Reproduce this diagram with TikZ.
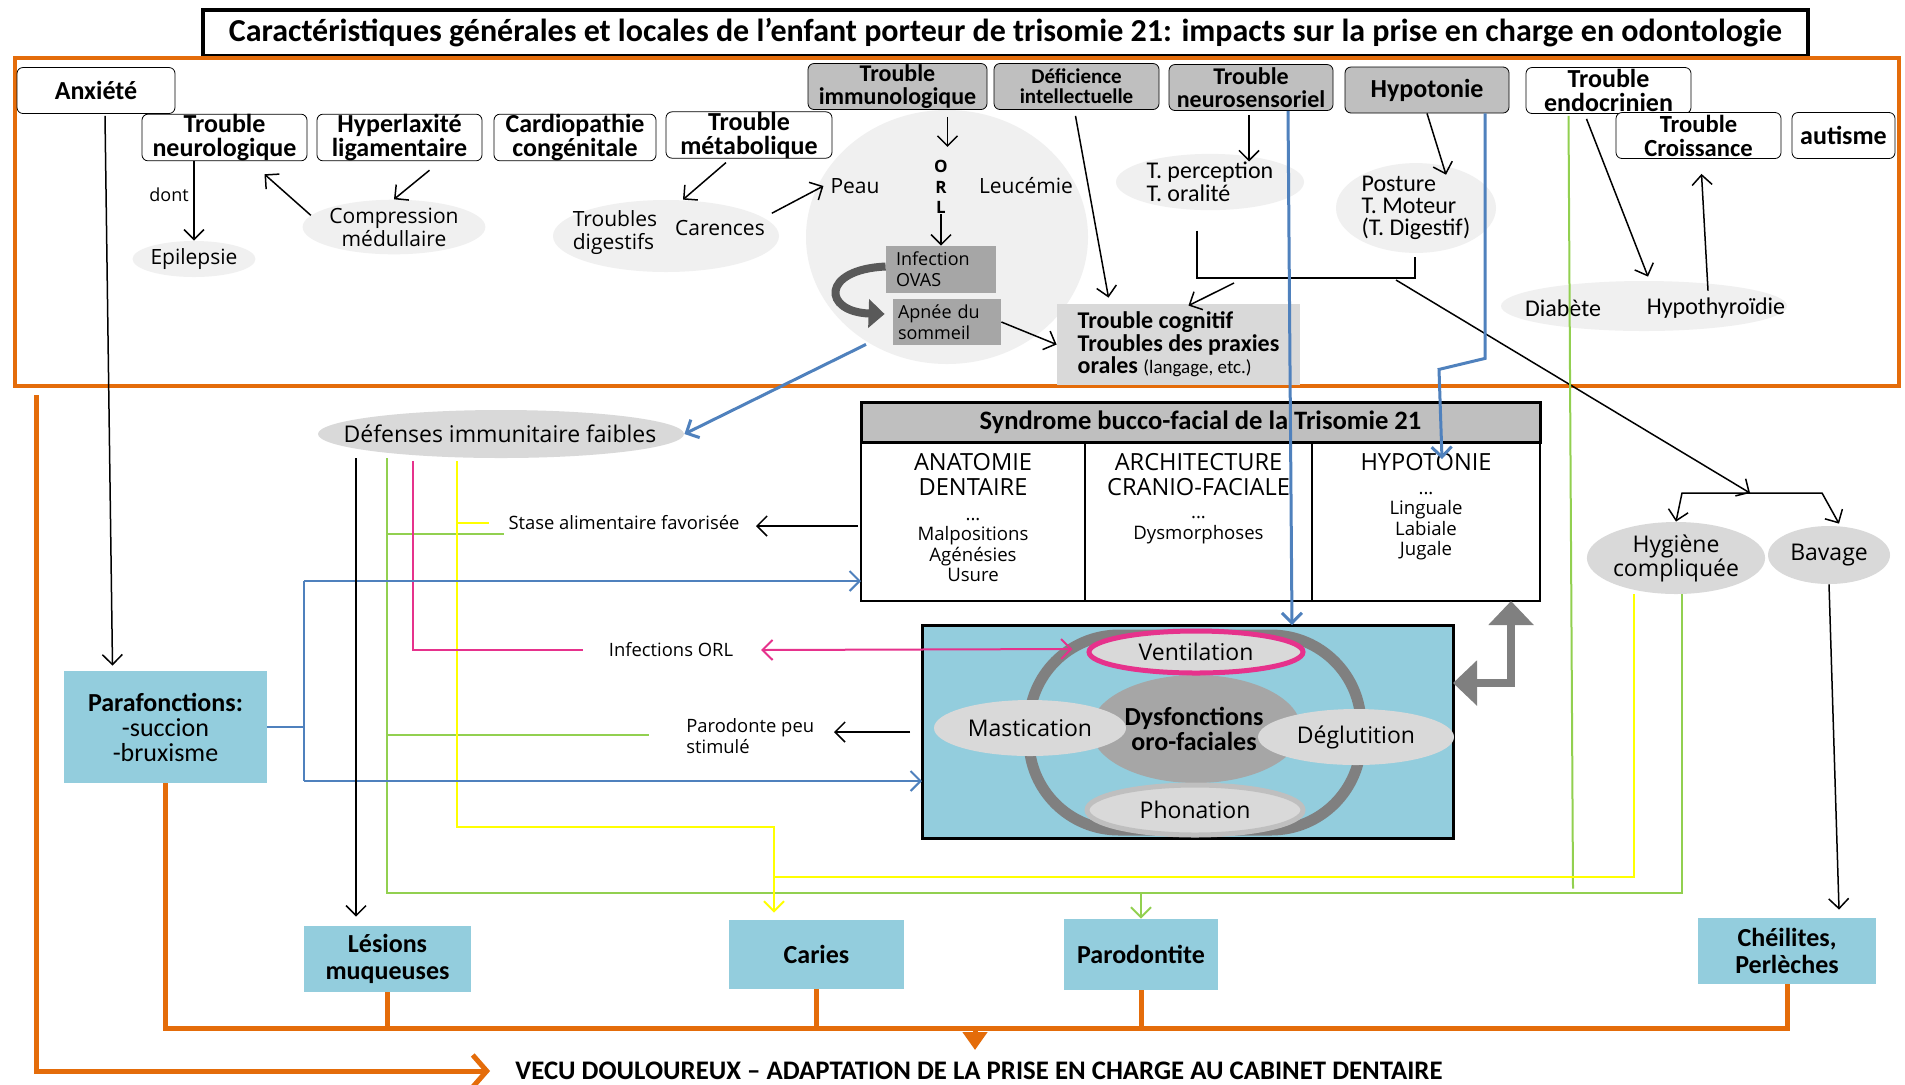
\documentclass[tikz,border=0pt]{standalone}
\usepackage{fontspec}
\setmainfont{Carlito}
\newfontfamily\osans{Open Sans}
\usetikzlibrary{arrows.meta,shapes.geometric,calc}

\definecolor{orangeT}{RGB}{228,108,10}
\definecolor{bleuC}{RGB}{147,205,221}
\definecolor{bleuL}{RGB}{79,129,189}
\definecolor{vertL}{RGB}{146,208,80}
\definecolor{jauneL}{RGB}{255,255,0}
\definecolor{rose}{RGB}{230,50,140}
\definecolor{grisA}{RGB}{240,240,240}
\definecolor{grisB}{RGB}{217,217,217}
\definecolor{grisC}{RGB}{191,191,191}
\definecolor{grisD}{RGB}{166,166,166}
\definecolor{grisE}{RGB}{128,128,128}
\definecolor{grisF}{RGB}{89,89,89}

\newcommand{\fsz}[2]{\fontsize{#1}{#2}\selectfont}

\tikzset{
    boite/.style={draw, rounded corners=3pt, fill=white, align=center, inner sep=0pt, minimum height=23pt, font=\bfseries\fsz{13}{12}}, % cases du haut
    bulle/.style={ellipse, fill=grisA, inner sep=0pt, align=center}, % bulles grises
    txtlarge/.style={font=\osans\fsz{10.5}{11.5}, align=left},
    txtcal/.style={font=\fsz{12}{11.5}, align=left},
    atteinte/.style={fill=bleuC, align=center, inner sep=0pt, font=\bfseries\fsz{13}{13.5}}, % cases bleues du bas
    fl/.style={-{Straight Barb[length=5pt,width=10pt]}, line width=0.75pt},
    coul/.style={line width=1pt},
    petit/.style={font=\osans\fsz{9.2}{10.5}, align=left}
}

\begin{document}
\begin{tikzpicture}[x=0.5pt, y=-0.5pt]
\useasboundingbox (0,0) rectangle (1905,1084);
\fill[white] (0,0) rectangle (1905,1084);

% titre et cadre
\node[draw, line width=2pt, minimum width=802.5pt, minimum height=23pt, inner sep=0pt, font=\bfseries\fsz{16}{16}] (titre) at (1005.5,33) {Caractéristiques générales et locales de l’enfant porteur de trisomie 21: impacts sur la prise en charge en odontologie};
\draw[orangeT, line width=2pt] (15,58) rectangle (1899,386);

% bulles du haut
\node[bulle, minimum width=141pt, minimum height=127pt] (cercle) at (947,237) {};
\node[bulle, minimum width=52pt, minimum height=18pt, txtlarge] (epil) at (194,259) {Epilepsie};
\node[bulle, minimum width=90pt, minimum height=25pt, txtlarge, align=center] (compr) at (394,227) {Compression\\médullaire};
\node[bulle, minimum width=113pt, minimum height=36pt] (digest) at (666,236) {};
\node[txtlarge] (troubdig) at (615,233) {Troubles\\digestifs};
\node[txtlarge] (carences) at (720,228) {Carences};
\node[txtlarge] (peau) at (855,186) {Peau};
\node[txtlarge] (leuc) at (1026,186) {Leucémie};
\node[font=\osans\bfseries\fsz{8.5}{10.3}, align=center, inner sep=0pt] (orl) at (941,187) {O\\R\\L};
\node[bulle, minimum width=94pt, minimum height=28pt, txtcal] (percep) at (1210,182) {T. perception\\T. oralité};
\node[bulle, minimum width=80pt, minimum height=43pt, txtcal, font=\fsz{12}{11}] (posture) at (1416,208) {Posture\\T. Moteur\\(T. Digestif)};
\node[bulle, minimum width=143pt, minimum height=25pt] (diab) at (1644,306) {};
\node[txtcal] (diabete) at (1563,308) {Diabète};
\node[txtcal] (hypoth) at (1716,308) {Hypothyroïdie};
\node[font=\osans\fsz{9}{10}] (dont) at (169,195) {dont};

\node[fill=grisD, minimum height=23.5pt, text width=45pt, inner xsep=5pt, inner ysep=0pt, font=\osans\fsz{9}{10.5}, align=left] (infect) at (941,269.5) {Infection\\OVAS};
\node[fill=grisD, minimum height=23pt, text width=49pt, inner xsep=2.5pt, inner ysep=0pt, font=\osans\fsz{9}{10.5}, align=left] (apnee) at (947,322) {Apnée du\\sommeil};
\node[fill=grisB, minimum width=121.5pt, minimum height=40.5pt, inner sep=0pt, align=left, font=\bfseries\fsz{12}{11.2}] (cognitif) at (1178.5,344.5) {Trouble cognitif\\Troubles des praxies\\orales {\mdseries\fsz{9.5}{11.2}(langage, etc.)}};

% cases du haut
\foreach \nom/\cx/\cy/\lg/\txt in {anx/96/90.5/79/{Anxiété}, neuro/224.5/137.5/82.5/{Trouble\\neurologique}, hyper/399.5/137.5/82.5/{Hyperlaxité\\ligamentaire}, cardio/575/137.5/81/{Cardiopathie\\congénitale}, metab/749/135/83/{Trouble\\métabolique}, endo/1608.5/90.5/82.5/{Trouble\\endocrinien}, autisme/1843.5/135.5/51.5/{autisme}}
    {\node[boite, minimum width=\lg pt] (\nom) at (\cx,\cy) {\txt};}
\node[boite, minimum width=82.5pt, font=\bfseries\fsz{12.3}{12}] (croiss) at (1698.5,135.5) {Trouble\\Croissance};
\foreach \nom/\cx/\cy/\lg/\txt in {immuno/897.5/86.5/89.5/{Trouble\\immunologique}, neurosens/1251/87.5/82/{Trouble\\neurosensoriel}}
    {\node[boite, fill=grisC, minimum width=\lg pt, font=\bfseries\fsz{12}{11.5}] (\nom) at (\cx,\cy) {\txt};}
\node[boite, fill=grisC, minimum width=82pt] (hypo) at (1427,90) {Hypotonie};
\node[boite, fill=grisC, minimum width=82.5pt, font=\bfseries\fsz{10.5}{10}] (defic) at (1076.5,86.5) {Déficience\\intellectuelle};

% syndrome bucco-facial
\node[draw, line width=1.5pt, fill=grisC, minimum width=339.5pt, minimum height=20pt, inner sep=0pt, outer sep=0pt, font=\bfseries\fsz{13.3}{13}] (syndrome) at (1200.5,422) {Syndrome bucco-facial de la Trisomie 21};
\node[draw, line width=1pt, minimum width=339.5pt, minimum height=79.5pt, anchor=north, inner sep=0pt, outer sep=0pt] (tableau) at (syndrome.south) {};
\foreach \dx in {224,451} {\draw[line width=0.75pt] ($(tableau.north west)+(\dx,0)$) -- ($(tableau.south west)+(\dx,0)$);}
\node[font=\osans\fsz{11.8}{12.5}, align=center] (anat) at (973,474.5) {ANATOMIE\\DENTAIRE};
\node[font=\osans\fsz{9.3}{10.2}, align=center] (anatl) at (973,550) {...\\Malpositions\\Agénésies\\Usure};
\node[font=\osans\fsz{11.8}{12.5}, align=center] (archi) at (1198.5,474.5) {ARCHITECTURE\\CRANIO-FACIALE};
\node[font=\osans\fsz{9.3}{10.2}, align=center] (archil) at (1198.5,530) {...\\Dysmorphoses};
\node[font=\osans\fsz{11.8}{12.5}, align=center] (hypot) at (1426,462) {HYPOTONIE};
\node[font=\osans\fsz{9.3}{10.2}, align=center] (hypotl) at (1426,526) {...\\Linguale\\Labiale\\Jugale};

% dysfonctions oro-faciales
\node[draw, line width=1.5pt, fill=bleuC, minimum width=265.5pt, minimum height=106.5pt, inner sep=0pt, outer sep=0pt] (fonctions) at (1187.5,731.5) {};
\node[draw=grisE, line width=5.5pt, rounded corners=45pt, minimum width=166pt, minimum height=97.5pt] (anneau) at (1195,732.5) {};
\node[ellipse, fill=grisD, minimum width=105pt, minimum height=54pt] (centre) at (1196,729) {};
\node[bulle, fill=grisB, draw=rose, line width=2.5pt, minimum width=107pt, minimum height=21pt, font=\osans\fsz{11.5}{12}] (ventilation) at (1196,652) {Ventilation};
\node[bulle, fill=grisB, minimum width=96pt, minimum height=28pt, font=\osans\fsz{11.5}{12}] (mastication) at (1030,728) {Mastication};
\node[bulle, fill=grisB, minimum width=98pt, minimum height=28pt, font=\osans\fsz{11.5}{12}] (deglutition) at (1356,737) {Déglutition};
\node[bulle, fill=grisB, draw=grisC, line width=2.5pt, minimum width=108pt, minimum height=25pt, font=\osans\fsz{11.5}{12}] (phonation) at (1195,810) {Phonation};
\node[font=\bfseries\fsz{13}{11}, align=center] (dysf) at (1194,729) {Dysfonctions\\oro-faciales};

% partie gauche
\node[bulle, fill=grisB, minimum width=183pt, minimum height=24pt] (defenses) at (501,434) {};
\node[font=\osans\fsz{11.5}{12}] (defensestxt) at (500,434) {Défenses immunitaire faibles};
\node[petit] (stase) at (624,523) {Stase alimentaire favorisée};
\node[petit] (infORL) at (671,650) {Infections ORL};
\node[petit, anchor=west, inner sep=0pt] (parod) at (686,736) {Parodonte peu\\stimulé};
\node[bulle, fill=grisB, minimum width=88pt, minimum height=36pt, font=\osans\fsz{11.5}{12}] (hygiene) at (1676,558) {Hygiène\\compliquée};
\node[bulle, fill=grisB, minimum width=61pt, minimum height=29pt, font=\osans\fsz{11.5}{12}] (bavage) at (1829,555) {Bavage};

% atteintes
\node[atteinte, minimum width=101.5pt, minimum height=56pt, font=\bfseries\fsz{13}{12.5}] (parafonc) at (165.5,727) {Parafonctions:\\{\mdseries -succion}\\{\mdseries -bruxisme}};
\node[atteinte, minimum width=83.5pt, minimum height=33pt] (lesions) at (387.5,959) {Lésions\\muqueuses};
\node[atteinte, minimum width=87.5pt, minimum height=34.5pt] (caries) at (816.5,954.5) {Caries};
\node[atteinte, minimum width=77pt, minimum height=35.5pt] (parodontite) at (1141,954.5) {Parodontite};
\node[atteinte, minimum width=89pt, minimum height=33pt] (cheil) at (1787,951) {Chéilites,\\Perlèches};
\node[font=\bfseries\fsz{13.4}{13}, inner sep=0pt] (vecu) at (979,1071) {VECU DOULOUREUX – ADAPTATION DE LA PRISE EN CHARGE AU CABINET DENTAIRE};

% fleches du haut
\draw[fl] (neuro.south -| epil) -- (epil.north);
\draw[fl] (compr.172) -- ($(neuro.south)+(40,13)$);
\draw[fl] ($(hyper.south)+(30,9)$) -- (compr.north);
\draw[fl] ($(metab.south)+(-23,4)$) -- ($(digest.north)+(17,0)$);
\draw[fl] (carences.north east) -- (peau.west);
\draw[fl] ($(immuno.south)+(50,7)$) -- ++(0,30);
\draw[fl] (orl.south) -- (infect.north -| orl.south);
\draw[grisF, line width=4pt, -{Triangle[width=14pt,length=8pt]}] ($(infect.west)+(0,-3)$) .. controls ($(infect.west)+(-65,0)$) and ($(apnee.west)+(-70,-10)$) .. ($(apnee.west)+(-8,-8)$);
\draw[fl] (apnee.east) -- (cognitif.west);
\draw[fl] ($(defic.south)+(-1,6)$) -- ($(cognitif.north)+(-70,-6)$);
\draw[fl] ($(neurosens.south)+(-2,4)$) -- ($(percep.north)+(39,8)$);
\draw[fl] (hypo.south) -- ($(posture.north)+(30,12)$);
\coordinate (crochet) at (1415,278);
\draw[line width=0.75pt] ($(percep.south)+(-13,20)$) |- (crochet) -- ($(posture.south)+(-1,4)$);
\draw[fl] ($(crochet)+(-181,5)$) -- ($(cognitif.north)+(10,2)$);
\coordinate (fourche) at (1750,493);
\draw[fl] ($(crochet)+(-19,2)$) -- (fourche);
\draw[fl] (fourche) -- ++(-68,0) -- (hygiene.north);
\draw[fl] (fourche) -- ++(72,0) -- ($(bavage.north)+(10,-2)$);
\draw[fl] (bavage.south) -- ($(cheil.north)+(52,-8)$);
\draw[fl] ($(endo.south)+(-22,5)$) -- ($(diab.north)+(4,-4)$);
\draw[fl] ($(hypoth.north)+(-8,0)$) -- ($(croiss.south)+(3,15)$);
\draw[fl] ($(anx.south)+(9,2)$) -- ($(parafonc.north)+(-53,-5)$);
\draw[vertL, coul] ($(endo.south)+(-40,2)$) -- ($(parodontite.north)+(432,-30)$);

% fleches bleues
\draw[fl, bleuL, line width=1.5pt] ($(neurosens.south)+(37,0)$) -- ($(fonctions.north)+(104.5,0)$);
\draw[fl, bleuL, line width=1.5pt] ($(hypo.south)+(58,0)$) -- ++(0,245) -- ++(-46,11) -- ($(tableau.north)+(241.5,17)$);
\draw[fl, bleuL, line width=1.5pt] ($(cercle.south)+(-81,-20)$) -- (defenses.east);
\coordinate (coude) at (1511,683);
\draw[grisE, line width=4pt, {Triangle[width=22pt,length=12pt]}-{Triangle[width=22pt,length=12pt]}] (tableau.south -| coude) -- (coude) -- (coude -| fonctions.east);

% lignes de couleur
\coordinate (vert) at (387,893);
\draw[vertL, coul] ($(defenses.south)+(-114,0)$) -- (vert) -| ($(hygiene.south)+(6,0)$);
\draw[fl, vertL, coul] (parodontite.north |- vert) -- (parodontite.north);
\draw[vertL, coul] ($(vert)+(0,-359)$) -- ++(117,0);
\draw[vertL, coul] ($(vert)+(0,-158)$) -- ++(262,0);
\coordinate (jaune) at (774,827);
\draw[fl, jauneL, coul] ($(defenses.south)+(-44,3)$) |- (jaune) -- ($(caries.north)+(-42.5,-7)$);
\draw[jauneL, coul] ($(defenses.south)+(-44,65)$) -- ++(32,0);
\draw[jauneL, coul] ($(hygiene.south)+(-42,0)$) |- ($(jaune)+(0,50)$);
\draw[rose, coul] ($(defenses.south)+(-88,3)$) |- ($(infORL.west)+(-19,0)$);
\draw[rose, coul, {Straight Barb[length=5pt,width=10pt]}-{Straight Barb[length=5pt,width=10pt]}] ($(infORL.east)+(21,0)$) -- ($(ventilation.west)+(-14,-3)$);
\coordinate (bh) at (304,581);
\coordinate (bb) at (304,781);
\draw[bleuL, coul] (parafonc.east) -| (bh);
\draw[bleuL, coul] (parafonc.east -| bh) -- (bb);
\draw[fl, bleuL, coul] (bh) -- (bh -| tableau.west);
\draw[fl, bleuL, coul] (bb) -- (bb -| fonctions.west);
\draw[fl] ($(tableau.west |- stase)+(-3,3)$) -- ($(tableau.west |- stase)+(-105,3)$);
\draw[fl] ($(fonctions.west |- parod)+(-12,-4)$) -- ($(fonctions.west |- parod)+(-88,-4)$);
\draw[fl] ($(defenses.south)+(-145,0)$) -- ($(lesions.north)+(-31.5,-9)$);

% lignes orange
\coordinate (bus) at (975,1028);
\draw[orangeT, line width=2.5pt] (parafonc.south) |- (bus) -| (cheil.south);
\foreach \n in {lesions,caries,parodontite} {\draw[orangeT, line width=2.5pt] (\n.south) -- (\n.south |- bus);}
\draw[orangeT, line width=2.5pt, -{Triangle[width=12pt,length=9pt]}] (bus) -- ++(0,22);
\coordinate (depart) at (36,395);
\draw[orangeT, line width=2.5pt, -{Straight Barb[length=7pt,width=16pt]}] (depart) |- ($(vecu.west)+(-25,0)$);
\end{tikzpicture}
\end{document}
